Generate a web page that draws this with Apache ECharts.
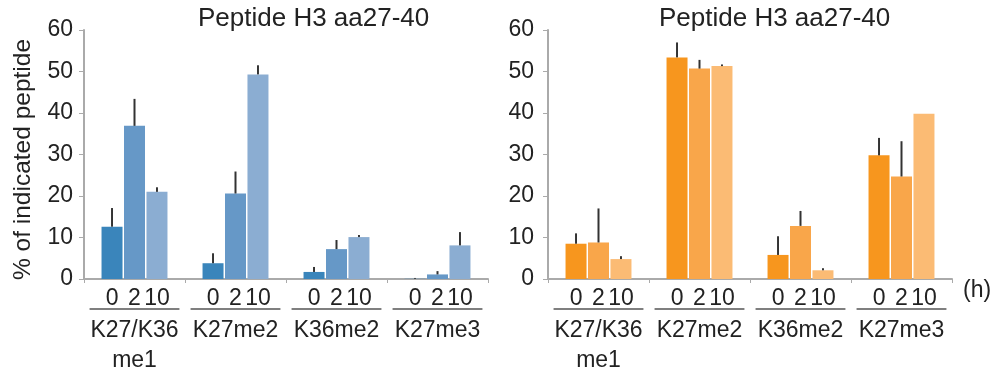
<!DOCTYPE html>
<html>
<head>
<meta charset="utf-8">
<script src="https://cdn.jsdelivr.net/npm/echarts@6/dist/echarts.min.js"></script>
<style>
html,body{margin:0;padding:0;background:#fff;}
#chart{width:998px;height:369px;}
</style>
</head>
<body>
<div id="chart"></div>
<script>
// ---- data ----
const chartTitle = 'Peptide H3 aa27-40';
const yAxisName = '% of indicated peptide';
const timeUnit = '(h)';
const timepoints = ['0', '2', '10'];
const categories = ['K27/K36\nme1', 'K27me2', 'K36me2', 'K27me3'];
const yTicks = [0, 10, 20, 30, 40, 50, 60];

// left panel (blue): mean values per timepoint
const left0h  = [12.6, 3.8, 1.7, 0.05];
const left2h  = [36.9, 20.6, 7.2, 1.1];
const left10h = [21.0, 49.3, 10.1, 8.1];
// left panel error (upper SD)
const leftErr0h  = [4.5, 2.4, 1.2, 0.2];
const leftErr2h  = [6.5, 5.3, 2.2, 0.8];
const leftErr10h = [1.1, 2.2, 0.5, 3.2];

// right panel (orange): mean values per timepoint
const right0h  = [8.5, 53.4, 5.8, 29.8];
const right2h  = [8.8, 50.7, 12.8, 24.7];
const right10h = [4.8, 51.3, 2.1, 39.8];
// right panel error (upper SD)
const rightErr0h  = [2.5, 3.6, 4.5, 4.2];
const rightErr2h  = [8.2, 2.1, 3.6, 8.5];
const rightErr10h = [0.7, 0.4, 0.5, 0];

const blueColors = ['#3a85bb', '#6698c7', '#8badd2'];
const orangeColors = ['#f7961e', '#f9a64a', '#fbbb74'];

// ---- style ----
const FONT = 'Liberation Sans';
const TXT = '#222';
const AXIS = '#aaaaaa';
const BAR_W = 21;
const BAR_GAP = 0.07;
const BAR_STEP = BAR_W * (1 + BAR_GAP);

const chart = echarts.init(document.getElementById('chart'), null, {renderer: 'canvas'});

function xAxisCfg(gridIndex, withName) {
  const a = {
    type: 'category', gridIndex, data: categories,
    axisLine: {show: true, lineStyle: {color: AXIS, width: 2}},
    axisTick: {show: true, length: 4, lineStyle: {color: AXIS, width: 1}},
    axisLabel: {interval: 0, margin: 37, fontSize: 23, lineHeight: 30, color: TXT, fontFamily: FONT},
    splitLine: {show: false}
  };
  if (withName) {
    a.name = timeUnit;
    a.nameLocation = 'end';
    a.nameGap = 11;
    a.nameTextStyle = {fontSize: 23, color: TXT, fontFamily: FONT, verticalAlign: 'top', padding: [0, 0, 0, 0], lineHeight: 23};
  }
  return a;
}
function yAxisCfg(gridIndex, margin, withName) {
  const a = {
    type: 'value', gridIndex, min: yTicks[0], max: yTicks[yTicks.length - 1], interval: yTicks[1] - yTicks[0],
    axisLine: {show: true, lineStyle: {color: AXIS, width: 2}},
    axisTick: {show: true, length: 5, lineStyle: {color: AXIS, width: 1}},
    axisLabel: {margin, fontSize: 23, color: TXT, fontFamily: FONT},
    splitLine: {show: false}
  };
  if (withName) {
    a.name = yAxisName;
    a.nameLocation = 'middle';
    a.nameGap = 48;
    a.nameTextStyle = {fontSize: 24.5, color: TXT, fontFamily: FONT, padding: [0, 10, 0, 0]};
  }
  return a;
}

function barSeries(gridIdx, values, k, colors) {
  return {
    type: 'bar', xAxisIndex: gridIdx, yAxisIndex: gridIdx,
    data: values, barWidth: BAR_W, barGap: (BAR_GAP * 100) + '%',
    itemStyle: {color: colors[k]},
    label: {show: true, position: 'bottom', distance: 8, formatter: timepoints[k],
            fontSize: 23, color: TXT, fontFamily: FONT},
    z: 2
  };
}
function errSeries(gridIdx, means, errs) {
  const data = [];
  means.forEach((m, k) => {
    m.forEach((v, i) => data.push([i, v, errs[k][i], k]));
  });
  return {
    type: 'custom', xAxisIndex: gridIdx, yAxisIndex: gridIdx, z: 5, silent: true,
    encode: {x: 0, y: 1},
    data,
    renderItem(params, api) {
      const i = api.value(0), m = api.value(1), sd = api.value(2), k = api.value(3);
      if (!(sd > 0)) return null;
      const p0 = api.coord([i, m]);
      const p1 = api.coord([i, m + sd]);
      const x = p0[0] + (k - 1) * BAR_STEP;
      return {type: 'line', shape: {x1: x, y1: p0[1], x2: x, y2: p1[1]},
              style: {stroke: '#333', lineWidth: 2}};
    }
  };
}
function underlineSeries(gridIdx) {
  return {
    type: 'custom', xAxisIndex: gridIdx, yAxisIndex: gridIdx, z: 5, silent: true, clip: false,
    encode: {x: 0, y: 1},
    data: categories.map((c, i) => [i, 0]),
    renderItem(params, api) {
      const p = api.coord([api.value(0), 0]);
      const w = api.size([1, 0])[0];
      const half = w * 0.445;
      return {type: 'line', shape: {x1: p[0] - half, y1: p[1] + 30, x2: p[0] + half, y2: p[1] + 30},
              style: {stroke: '#555', lineWidth: 1.3}};
    }
  };
}

const option = {
  backgroundColor: '#fff',
  animation: false,
  title: [
    {text: chartTitle, left: 198, top: 6, padding: 0,
     textStyle: {fontSize: 26, fontWeight: 'normal', color: TXT, fontFamily: FONT}},
    {text: chartTitle, left: 659, top: 6, padding: 0,
     textStyle: {fontSize: 26, fontWeight: 'normal', color: TXT, fontFamily: FONT}}
  ],
  grid: [
    {left: 84, right: 510, top: 30, bottom: 90, outerBoundsMode: 'none', containLabel: false},
    {left: 548, right: 46, top: 30, bottom: 90, outerBoundsMode: 'none', containLabel: false}
  ],
  xAxis: [xAxisCfg(0, false), xAxisCfg(1, true)],
  yAxis: [yAxisCfg(0, 11, true), yAxisCfg(1, 14, false)],
  series: [
    barSeries(0, left0h, 0, blueColors),
    barSeries(0, left2h, 1, blueColors),
    barSeries(0, left10h, 2, blueColors),
    errSeries(0, [left0h, left2h, left10h], [leftErr0h, leftErr2h, leftErr10h]),
    underlineSeries(0),
    barSeries(1, right0h, 0, orangeColors),
    barSeries(1, right2h, 1, orangeColors),
    barSeries(1, right10h, 2, orangeColors),
    errSeries(1, [right0h, right2h, right10h], [rightErr0h, rightErr2h, rightErr10h]),
    underlineSeries(1)
  ]
};
chart.setOption(option);
</script>
</body>
</html>
